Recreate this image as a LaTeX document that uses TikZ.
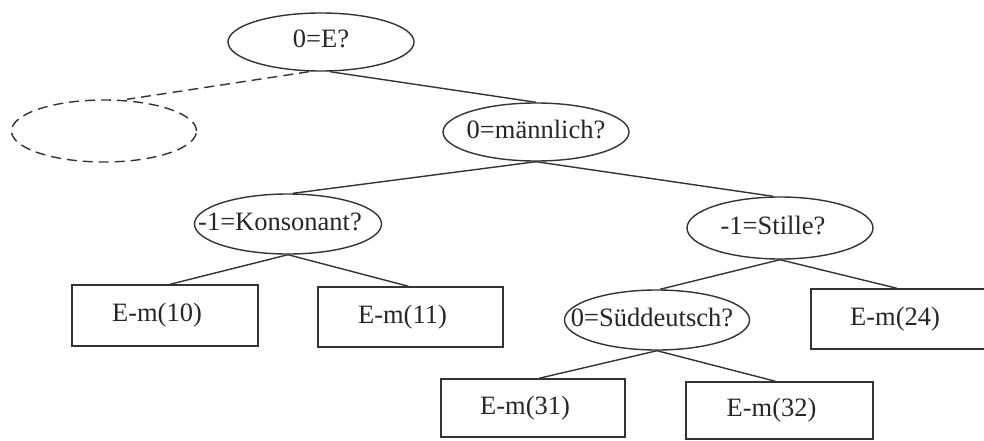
\documentclass[tikz,border=0pt]{standalone}
\usepackage{fontspec}
\setmainfont{Liberation Serif}
\usetikzlibrary{shapes.geometric}
% label of zero width, moved left by half of the given kern
\newcommand\shifted[2]{\makebox[0pt]{#2\kern#1pt}}
\begin{document}
\begin{tikzpicture}[x=1pt,y=-1pt,
  every node/.style={font=\fontsize{26.5}{30}\selectfont, text=black!85,
    text height=18pt, text depth=6pt, inner sep=0pt},
  question/.style={draw=black!80, line width=1.4pt, ellipse,
    minimum width=186pt, minimum height=60pt},
  hiddenq/.style={question, dash pattern=on 10pt off 6pt},
  leaf/.style={draw=black!80, line width=1.4pt, rectangle,
    minimum width=186pt, minimum height=60pt},
  edge/.style={draw=black!80, line width=1.4pt}]
\useasboundingbox (0,0) rectangle (984,441);

% decision nodes
\node[question, minimum height=58pt] (q0) at (321,42) {\shifted{0}{0=E?}};
\node[hiddenq, minimum height=62pt, minimum width=185pt] (hid) at (104,131) {};
\node[question, minimum height=58pt] (qm) at (536,132) {\shifted{0}{0=männlich?}};
\node[question, minimum width=187pt] (qk) at (288,224) {\shifted{16}{-1=Konsonant?}};
\node[question, minimum height=62pt] (qs) at (780,228) {\shifted{14}{-1=Stille?}};
\node[question, minimum width=185pt] (qd) at (657,320) {\shifted{10}{0=Süddeutsch?}};

% leaves
\node[leaf, minimum height=61pt] (l10) at (165,315.5) {\shifted{16}{E-m(10)}};
\node[leaf, minimum width=185pt] (l11) at (410.5,317) {\shifted{16}{E-m(11)}};
\node[leaf, minimum width=184pt] (l24) at (903,319) {\shifted{16}{E-m(24)}};
\node[leaf, minimum width=184pt, minimum height=58pt] (l31) at (533,408) {\shifted{16}{E-m(31)}};
\node[leaf, minimum width=187pt, minimum height=57pt] (l32) at (779.5,410.5) {\shifted{16}{E-m(32)}};

% branches
\draw[edge, dash pattern=on 10pt off 6pt] ([xshift=-12pt]q0.south) -- ([xshift=23pt]hid.north);
\draw[edge] ([xshift=9pt]q0.south) -- (qm.north);
\draw[edge] (qm.south) -- ([xshift=5pt]qk.north);
\draw[edge] (qm.south) -- ([xshift=-7pt]qs.north);
\draw[edge] (qk.south) -- ([xshift=5pt]l10.north);
\draw[edge] (qk.south) -- ([xshift=-2pt]l11.north);
\draw[edge] (qs.south) -- ([xshift=3pt]qd.north);
\draw[edge] (qs.south) -- ([xshift=-6pt]l24.north);
\draw[edge] (qd.south) -- ([xshift=6pt]l31.north);
\draw[edge] (qd.south) -- ([xshift=-4pt]l32.north);
\end{tikzpicture}
\end{document}
